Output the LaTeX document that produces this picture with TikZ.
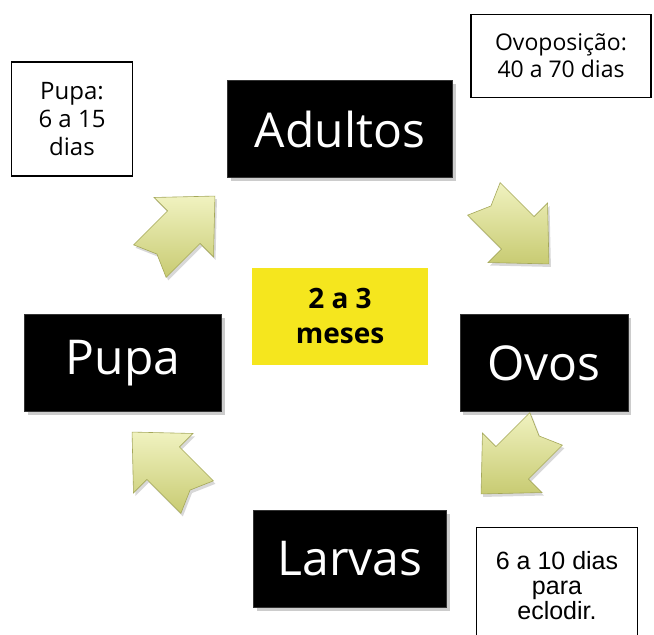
\documentclass[tikz,border=0pt]{standalone}
\usepackage{fontspec}
\setmainfont{Open Sans}
\newfontfamily\arialf{Liberation Sans}
\usetikzlibrary{shadows}
\definecolor{arrowlight}{HTML}{F0F2C0}
\definecolor{arrowdark}{HTML}{C8CB72}
\definecolor{arrowedge}{HTML}{A5A85A}
\definecolor{yel}{HTML}{F5E61E}
\tikzset{
  blk/.style={draw=black!80, fill=black, text=white, minimum height=97pt, inner sep=0pt,
     font=\fontsize{48}{52}\selectfont, drop shadow={shadow xshift=3pt, shadow yshift=-3pt, opacity=0.4}},
  lbl/.style={draw=black, line width=1.2pt, fill=white, align=center, inner sep=0pt,
     font=\fontsize{23}{27}\selectfont},
  blockarrow/.style={shading=axis, top color=arrowlight, bottom color=arrowdark, shading angle=0,
     draw=arrowedge, line width=0.6pt, drop shadow={shadow xshift=2pt, shadow yshift=-3pt, opacity=0.3}}
}
\newcommand{\cyclearrow}[3]{%
  \begin{scope}[shift={(#1,#2)}, rotate=#3]
    \path[blockarrow] (-44,-23) -- (4,-23) -- (4,-42) -- (48,0) -- (4,42) -- (4,23) -- (-44,23) -- (-34,0) -- cycle;
  \end{scope}}
\begin{document}
\begin{tikzpicture}[x=1pt,y=-1pt]
\useasboundingbox[fill=white] (0,0) rectangle (654,635);
% black stage boxes
\node[blk, minimum width=225pt] (adultos) at (340,129) {Adultos};
\node[blk, minimum width=197pt] (pupa) at (123,363) {Pupa};
\node[blk, minimum width=168pt] (ovos) at (544,363) {Ovos};
\node[blk, minimum width=193pt] (larvas) at (350,559) {Larvas};
% center
\node[fill=yel, minimum width=176pt, minimum height=97pt, align=center, inner sep=0pt,
  font=\fontsize{28}{35}\selectfont\bfseries] (centre) at (340,316) {2 a 3\\meses};
% labels
\node[lbl, minimum width=121pt, minimum height=114pt, font=\fontsize{24}{28}\selectfont] (lpupa) at (72,119) {Pupa:\\6 a 15\\dias};
\node[lbl, minimum width=180pt, minimum height=83pt] (lovo) at (561,56) {Ovoposição:\\40 a 70 dias};
\node[lbl, minimum width=161pt, minimum height=116pt, font=\arialf\fontsize{25}{25}\selectfont, anchor=north] (llarva) at (557,527) {6 a 10 dias\\para\\eclodir.};
% arrows
\cyclearrow{181}{230}{45}
\cyclearrow{515}{230}{-45}
\cyclearrow{515}{460}{-135}
\cyclearrow{166}{466}{135}
\end{tikzpicture}
\end{document}
